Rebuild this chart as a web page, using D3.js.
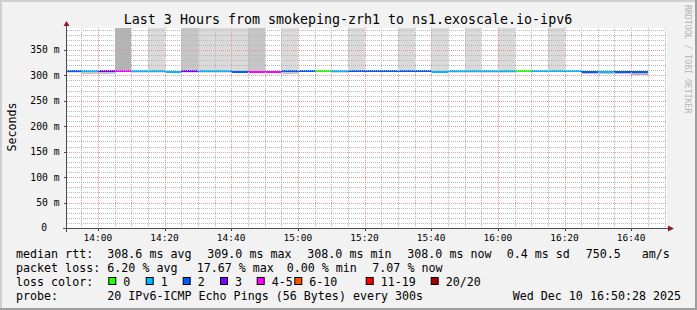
<!DOCTYPE html>
<html>
<head>
<meta charset="utf-8">
<script src="https://cdn.jsdelivr.net/npm/d3@7"></script>
<style>
html, body { margin: 0; padding: 0; background: #f2f2f2; }
svg text { font-family: "DejaVu Sans Mono", monospace; }
</style>
</head>
<body>
<svg width="697" height="310"></svg>
<script>
// ---- data ----
const firstStep = new Date(2025, 11, 10, 13, 50, 0);
const viewStart = new Date(2025, 11, 10, 13, 50, 45);
const viewEnd = new Date(2025, 11, 10, 16, 50, 45);
const stepSeconds = 300;
const yMax = 393;

// median rtt per 5 minute step, ms
const medianRtt = [309, 309, 309, 309, 309, 309, 307.5, 309, 309, 309,
                   307.5, 307.5, 306.5, 309, 309, 309, 309, 309, 309, 309,
                   309, 309, 307.5, 309, 309, 309, 309, 309, 309, 309,
                   309, 307.5, 307.5, 307.5, 307.5];
// lost pings out of 20 per step
const lossCount = [2, 1, 3, 4, 1, 1, 1, 3, 1, 1,
                   2, 4, 4, 2, 2, 0, 1, 2, 2, 2,
                   2, 2, 1, 1, 1, 1, 1, 0, 1, 1,
                   1, 2, 1, 2, 2];
// slowest / fastest ping per step, ms (500 = off the top of the graph)
const smokeHigh = [309, 309, 309, 500, 309, 500, 308, 500, 500, 500,
                   500, 500, 307, 500, 309, 309, 309, 500, 309, 309,
                   500, 309, 500, 309, 500, 309, 500, 309, 309, 500,
                   309, 308, 308, 308, 308];
const smokeLow = [305, 303, 303, 309, 304, 304, 305, 305, 305, 305,
                  304, 305, 307, 302, 306, 309, 305, 306, 306, 306,
                  306, 306, 305, 305, 305, 305, 305, 306, 306, 306,
                  306, 302, 302, 302, 301];
// smoke density (0 none .. 3 dense) above and below the median
const upperDensity = [0, 0, 0, 3, 0, 1, 0, 2, 1, 1,
                      1, 2, 0, 1, 0, 0, 0, 1, 0, 0,
                      1, 0, 1, 0, 1, 0, 1, 0, 0, 1,
                      0, 0, 0, 0, 0];
const lowerDensity = [1, 2, 2, 0, 1, 1, 1, 1, 1, 1,
                      1, 1, 0, 2, 1, 0, 1, 1, 1, 1,
                      1, 1, 1, 1, 1, 1, 1, 1, 1, 1,
                      1, 2, 2, 2, 3];

const yTicks = [0, 50, 100, 150, 200, 250, 300, 350];
const yTickLabels = ['0', '50 m', '100 m', '150 m', '200 m', '250 m', '300 m', '350 m'];

const lossLabels = ['0', '1', '2', '3', '4-5', '6-10', '11-19', '20/20'];
const lossThresholds = [1, 2, 3, 4, 6, 11, 20];
const lossColors = ['#26ff00', '#00b8ff', '#0059ff', '#7e00ff', '#ff00ff', '#ff5500', '#ff0000', '#a10000'];

const titleText = 'Last 3 Hours from smokeping-zrh1 to ns1.exoscale.io-ipv6';
const rttLegend = ['median rtt:', '308.6 ms avg', '309.0 ms max', '308.0 ms min', '308.0 ms now', '0.4 ms sd', '750.5', 'am/s'];
const lossLegend = ['packet loss:', '6.20 % avg', '17.67 % max', '0.00 % min', '7.07 % now'];
const probeLegend = ['probe:', '20 IPv6-ICMP Echo Pings (56 Bytes) every 300s', 'Wed Dec 10 16:50:28 2025'];

// ---- layout ----
const svg = d3.select('svg');
const width = +svg.attr('width');
const height = +svg.attr('height');

const plot = { left: 67, right: 667, top: 28, bottom: 228 };

const xScale = d3.scaleTime().domain([viewStart, viewEnd]).range([plot.left, plot.right]);
const yScale = d3.scaleLinear().domain([0, yMax]).range([plot.bottom, plot.top]);
const lossColor = d3.scaleThreshold().domain(lossThresholds).range(lossColors);
const smokeShade = d3.scaleOrdinal().domain([1, 2, 3]).range(['#dadada', '#c6c6c6', '#b3b3b3']);

const steps = medianRtt.map(function(d, i) {
    const t0 = new Date(+firstStep + i * stepSeconds * 1000);
    return {
        t0: t0,
        t1: new Date(+t0 + stepSeconds * 1000),
        median: d,
        loss: lossCount[i],
        hi: smokeHigh[i],
        lo: smokeLow[i],
        up: upperDensity[i],
        down: lowerDensity[i]
    };
});

// background + 3d border
svg.append('rect').attr('width', width).attr('height', height).attr('fill', '#f2f2f2');
svg.append('rect').attr('x', 0).attr('y', 0).attr('width', width).attr('height', 2).attr('fill', '#cfcfcf');
svg.append('rect').attr('x', 0).attr('y', 0).attr('width', 2).attr('height', height).attr('fill', '#cfcfcf');
svg.append('rect').attr('x', 0).attr('y', height - 2).attr('width', width).attr('height', 2).attr('fill', '#9e9e9e');
svg.append('rect').attr('x', width - 2).attr('y', 0).attr('width', 2).attr('height', height).attr('fill', '#9e9e9e');

// canvas
svg.append('rect')
    .attr('x', plot.left).attr('y', plot.top)
    .attr('width', plot.right - plot.left).attr('height', plot.bottom - plot.top)
    .attr('fill', '#ffffff');

svg.append('clipPath').attr('id', 'clip')
    .append('rect')
    .attr('x', plot.left).attr('y', plot.top)
    .attr('width', plot.right - plot.left).attr('height', plot.bottom - plot.top);

const chart = svg.append('g').attr('clip-path', 'url(#clip)');

// smoke above the median
chart.append('g')
    .selectAll('rect')
    .data(steps.filter(d => d.up > 0))
    .enter()
    .append('rect')
    .attr('x', d => Math.round(xScale(d.t0)))
    .attr('width', d => Math.round(xScale(d.t1)) - Math.round(xScale(d.t0)))
    .attr('y', d => Math.round(yScale(d.hi)))
    .attr('height', d => Math.round(yScale(d.median)) - Math.round(yScale(d.hi)))
    .attr('fill', d => smokeShade(d.up));

// smoke below the median
chart.append('g')
    .selectAll('rect')
    .data(steps.filter(d => d.down > 0))
    .enter()
    .append('rect')
    .attr('x', d => Math.round(xScale(d.t0)))
    .attr('width', d => Math.round(xScale(d.t1)) - Math.round(xScale(d.t0)))
    .attr('y', d => Math.round(yScale(d.median)))
    .attr('height', d => Math.round(yScale(d.lo)) - Math.round(yScale(d.median)))
    .attr('fill', d => smokeShade(d.down));

// grid
const grid = svg.append('g').attr('shape-rendering', 'crispEdges');
const minorY = d3.range(10, yMax, 10).filter(v => v % 50 !== 0);
const majorY = yTicks.filter(v => v > 0);
const majorX = xScale.ticks(d3.timeMinute.every(20));
const minorX = xScale.ticks(d3.timeMinute.every(5)).filter(t => t.getMinutes() % 20 !== 0);

grid.selectAll('.hminor').data(minorY).enter().append('line')
    .attr('x1', plot.left).attr('x2', plot.right)
    .attr('y1', d => Math.round(yScale(d)) + 0.5).attr('y2', d => Math.round(yScale(d)) + 0.5)
    .attr('stroke', '#b8b8b8').attr('stroke-dasharray', '1,1');
grid.selectAll('.vminor').data(minorX).enter().append('line')
    .attr('y1', plot.top).attr('y2', plot.bottom)
    .attr('x1', d => Math.round(xScale(d)) + 0.5).attr('x2', d => Math.round(xScale(d)) + 0.5)
    .attr('stroke', '#b8b8b8').attr('stroke-dasharray', '1,1');
grid.selectAll('.hmajor').data(majorY).enter().append('line')
    .attr('x1', plot.left).attr('x2', plot.right)
    .attr('y1', d => Math.round(yScale(d)) + 0.5).attr('y2', d => Math.round(yScale(d)) + 0.5)
    .attr('stroke', '#e89a9a').attr('stroke-dasharray', '1,1');
grid.selectAll('.vmajor').data(majorX).enter().append('line')
    .attr('y1', plot.top).attr('y2', plot.bottom)
    .attr('x1', d => Math.round(xScale(d)) + 0.5).attr('x2', d => Math.round(xScale(d)) + 0.5)
    .attr('stroke', '#e89a9a').attr('stroke-dasharray', '1,1');

// median rtt, coloured by loss
chart.append('g')
    .attr('shape-rendering', 'crispEdges')
    .selectAll('rect')
    .data(steps)
    .enter()
    .append('rect')
    .attr('x', d => Math.round(xScale(d.t0)))
    .attr('width', d => Math.round(xScale(d.t1)) - Math.round(xScale(d.t0)))
    .attr('y', d => Math.round(yScale(d.median)) - 1)
    .attr('height', 2)
    .attr('fill', d => lossColor(d.loss));

// axes
const axisColor = '#4a4a4a';
const arrowColor = '#8b1e1e';
svg.append('line')
    .attr('x1', plot.left - 0.5).attr('x2', plot.left - 0.5)
    .attr('y1', plot.bottom + 4).attr('y2', plot.top - 3)
    .attr('stroke', axisColor);
svg.append('line')
    .attr('x1', plot.left - 4).attr('x2', plot.right + 2)
    .attr('y1', plot.bottom + 0.5).attr('y2', plot.bottom + 0.5)
    .attr('stroke', axisColor);
svg.append('path')
    .attr('d', `M${plot.left - 3.5},${plot.top - 2} L${plot.left + 2.5},${plot.top - 2} L${plot.left - 0.5},${plot.top - 7} Z`)
    .attr('fill', arrowColor);
svg.append('path')
    .attr('d', `M${plot.right + 1},${plot.bottom - 2.5} L${plot.right + 1},${plot.bottom + 3.5} L${plot.right + 7},${plot.bottom + 0.5} Z`)
    .attr('fill', arrowColor);

// axis ticks
svg.append('g').selectAll('line').data(yTicks).enter().append('line')
    .attr('x1', plot.left - 3).attr('x2', plot.left)
    .attr('y1', d => Math.round(yScale(d)) + 0.5).attr('y2', d => Math.round(yScale(d)) + 0.5)
    .attr('stroke', axisColor);
svg.append('g').selectAll('line').data(majorX).enter().append('line')
    .attr('x1', d => Math.round(xScale(d)) + 0.5).attr('x2', d => Math.round(xScale(d)) + 0.5)
    .attr('y1', plot.bottom).attr('y2', plot.bottom + 3)
    .attr('stroke', axisColor);

// axis labels
svg.append('g').selectAll('text').data(yTicks).enter().append('text')
    .attr('x', (d, i) => i === 0 ? 47 : 59.5)
    .attr('y', d => yScale(d))
    .attr('dy', '0.35em')
    .attr('text-anchor', 'end')
    .style('font-size', '9.7px')
    .text((d, i) => yTickLabels[i]);

svg.append('g').selectAll('text').data(majorX).enter().append('text')
    .attr('x', d => xScale(d))
    .attr('y', 241)
    .attr('text-anchor', 'middle')
    .style('font-size', '9.5px')
    .text(d => d3.timeFormat('%H:%M')(d));

svg.append('text')
    .attr('transform', 'translate(15.5,127) rotate(-90)')
    .attr('text-anchor', 'middle')
    .style('font-size', '11.6px')
    .text('Seconds');

// title
svg.append('text')
    .attr('x', 348).attr('y', 24)
    .attr('text-anchor', 'middle')
    .style('font-size', '13.3px')
    .text(titleText);

// watermark
svg.append('text')
    .attr('transform', 'translate(685,5) rotate(90)')
    .style('font-size', '8.2px')
    .attr('fill', '#b4b4b4')
    .text('RRDTOOL / TOBI OETIKER');

// legend
const legendFont = '11.66px';
const rttX = [16, 107.3, 207.3, 307.3, 407.3, 506.7, 585.7, 641.7];
const lossX = [16, 107.3, 196.7, 286.7, 372.3];
const probeX = [16, 107.3, 512.7];

function legendRow(items, xs, baseline) {
    svg.append('g').selectAll('text').data(items).enter().append('text')
        .attr('x', (d, i) => xs[i])
        .attr('y', baseline)
        .style('font-size', legendFont)
        .text(d => d);
}
legendRow(rttLegend, rttX, 258);
legendRow(lossLegend, lossX, 272);
legendRow(probeLegend, probeX, 300);

svg.append('text').attr('x', 16).attr('y', 286).style('font-size', legendFont).text('loss color:');
const boxX = [108.3, 145.7, 182.7, 220, 256.7, 294.3, 365.7, 430.7];
const key = svg.append('g').selectAll('g').data(lossLabels).enter().append('g')
    .attr('transform', (d, i) => `translate(${boxX[i]},0)`);
key.append('rect')
    .attr('x', 0.5).attr('y', 277.5)
    .attr('width', 7).attr('height', 7)
    .attr('fill', (d, i) => lossColors[i])
    .attr('stroke', '#000');
key.append('text')
    .attr('x', 15).attr('y', 286)
    .style('font-size', legendFont)
    .text(d => d);
</script>
</body>
</html>
